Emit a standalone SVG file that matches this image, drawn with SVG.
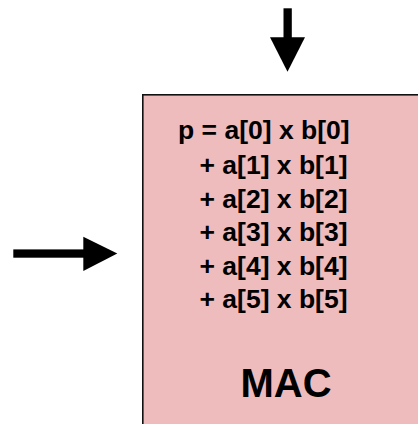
<svg xmlns="http://www.w3.org/2000/svg" width="418" height="424" viewBox="0 0 418 424">
<style>
.eq{font-family:"Liberation Sans",Arial,sans-serif;font-weight:bold;font-size:26.5px;fill:#000}
.title{font-family:"Liberation Sans",Arial,sans-serif;font-weight:bold;font-size:40px;fill:#000}
</style>
<rect width="418" height="424" fill="#ffffff"/>
<g id="mac">
<rect x="142.8" y="94.8" width="300" height="350" fill="#efbcbd" stroke="#111" stroke-width="1.6"/>
<text class="eq" x="178" y="139">p = a[0] x b[0]</text>
<text class="eq" x="199.5" y="174">+ a[1] x b[1]</text>
<text class="eq" x="199.5" y="207.5">+ a[2] x b[2]</text>
<text class="eq" x="199.5" y="241">+ a[3] x b[3]</text>
<text class="eq" x="199.5" y="274.5">+ a[4] x b[4]</text>
<text class="eq" x="199.5" y="308">+ a[5] x b[5]</text>
<text class="title" x="286" y="397" text-anchor="middle">MAC</text>
</g>
<g id="connectors">
<rect x="283.5" y="8.3" width="8.3" height="30" fill="#000"/>
<polygon points="270,37.3 305,37.3 287.5,71.7" fill="#000"/>
<rect x="13.3" y="249.4" width="71" height="8.3" fill="#000"/>
<polygon points="83.3,236.7 83.3,271 117.3,253.6" fill="#000"/>
</g>
</svg>
